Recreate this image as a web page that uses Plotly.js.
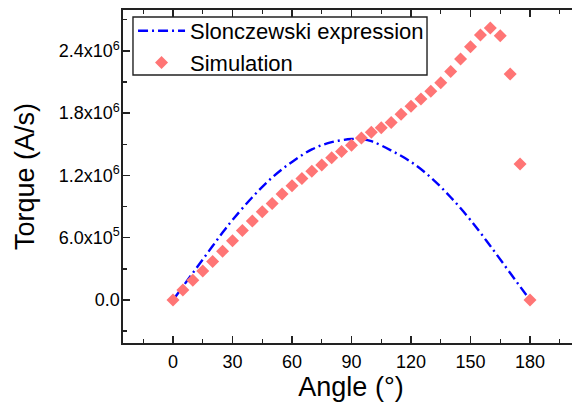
<!DOCTYPE html>
<html><head><meta charset="utf-8">
<script src="https://cdn.plot.ly/plotly-3.0.1.min.js"></script>
<style>html,body{margin:0;padding:0;overflow:hidden;background:#fff;}#chart{width:590px;height:405px;}</style>
</head><body><div id="chart"></div>
<script>
// Slonczewski expression
const slonAngle = [0, 5, 10, 15, 20, 25, 30, 40, 50, 60, 70, 80, 90, 95, 100, 110, 120, 130, 140, 150, 160, 170, 175, 180];
const slonTorque = [0, 0.13e6, 0.26e6, 0.39e6, 0.52e6, 0.65e6, 0.77e6, 0.99e6, 1.18e6, 1.33e6, 1.45e6, 1.52e6, 1.55e6, 1.55e6, 1.53e6, 1.44e6, 1.33e6, 1.18e6, 0.99e6, 0.77e6, 0.52e6, 0.26e6, 0.13e6, 0];
// Simulation
const simAngle = [0,5,10,15,20,25,30,35,40,45,50,55,60,65,70,75,80,85,90,95,100,105,110,115,120,125,130,135,140,145,150,155,160,165,170,175,180];
const simTorque = [0,0.096e6,0.19e6,0.28e6,0.37e6,0.47e6,0.57e6,0.67e6,0.76e6,0.85e6,0.93e6,1.02e6,1.10e6,1.17e6,1.24e6,1.30e6,1.37e6,1.43e6,1.49e6,1.56e6,1.615e6,1.66e6,1.71e6,1.79e6,1.865e6,1.936e6,2.01e6,2.093e6,2.20e6,2.32e6,2.44e6,2.552e6,2.62e6,2.545e6,2.176e6,1.31e6,0];
const xTicks = [0, 30, 60, 90, 120, 150, 180];
const yTicks = [0, 6e5, 1.2e6, 1.8e6, 2.4e6];
const yTickText = ['0.0', '6.0x10<sup>5</sup>', '1.2x10<sup>6</sup>', '1.8x10<sup>6</sup>', '2.4x10<sup>6</sup>'];

const font = 'Arial, "Liberation Sans", sans-serif';
const traces = [
  {x: slonAngle, y: slonTorque, type: 'scatter', mode: 'lines', name: 'Slonczewski expression',
   line: {color: '#0000ff', width: 2.4, dash: '10px,4px,2px,4px', shape: 'spline'}},
  {x: simAngle, y: simTorque, type: 'scatter', mode: 'markers', name: 'Simulation',
   marker: {symbol: 'diamond', size: 10, color: '#ff7575', line: {width: 0}}}
];
const axisCommon = {showgrid: false, zeroline: false, showline: true, linecolor: '#222', linewidth: 1.6,
  ticks: 'inside', ticklen: 7, tickwidth: 1.4, tickcolor: '#222', mirror: 'ticks',
  tickfont: {family: font, size: 18, color: '#000'}};
const layout = {
  width: 590, height: 405,
  margin: {l: 123, r: 11, t: 10, b: 62, autoexpand: false},
  paper_bgcolor: '#fff', plot_bgcolor: '#fff',
  showlegend: true,
  legend: {x: 0.022, y: 1.0, xanchor: 'left', yanchor: 'top', bgcolor: 'rgba(0,0,0,0)',
    borderwidth: 0, font: {family: font, size: 22, color: '#000'},
    tracegroupgap: 0, itemwidth: 47},
  shapes: [{type: 'rect', xref: 'paper', yref: 'paper', x0: 0.0219, x1: 0.6667, y0: 0.8048, y1: 0.979,
    line: {color: '#222', width: 1.4}, fillcolor: '#fff', layer: 'above'}],
  xaxis: Object.assign({}, axisCommon, {range: [-25.2, 204.7], tickvals: xTicks, ticktext: xTicks.map(String),
    ticklabelstandoff: 2,
    minor: {ticks: 'inside', ticklen: 4, tickwidth: 1.4, tickcolor: '#222', dtick: 15, tick0: 0},
    title: {text: 'Angle (°)', font: {family: font, size: 27, color: '#000'}, standoff: 4}}),
  yaxis: Object.assign({}, axisCommon, {range: [-4.14e5, 2.793e6], tickvals: yTicks, ticktext: yTickText,
    ticklabelstandoff: -2,
    minor: {ticks: 'inside', ticklen: 4, tickwidth: 1.4, tickcolor: '#222', dtick: 3e5, tick0: 0},
    title: {text: 'Torque (A/s)', font: {family: font, size: 27, color: '#000'}, standoff: 16}})
};
Plotly.newPlot('chart', traces, layout, {displayModeBar: false, staticPlot: true});
</script></body></html>
